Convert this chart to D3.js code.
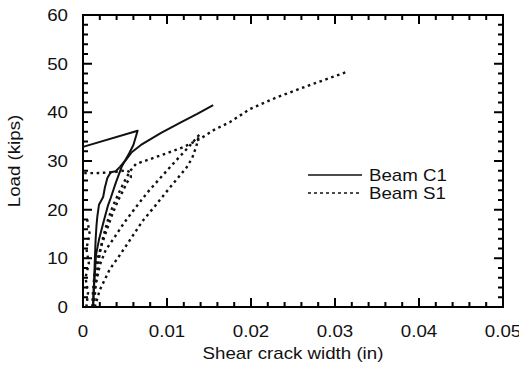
<!DOCTYPE html>
<html><head><meta charset="utf-8">
<script src="https://cdn.jsdelivr.net/npm/d3@7"></script>
<style>
body{margin:0;background:#fff;}
text{font-family:"Liberation Sans",Arial,Helvetica,sans-serif;fill:#111;}
</style></head>
<body><svg id="c" width="519" height="367"></svg>
<script>
// ---- data (shear crack width in inches, load in kips) ----
const xTicks = [0, 0.01, 0.02, 0.03, 0.04, 0.05];
const xTickLabels = ["0", "0.01", "0.02", "0.03", "0.04", "0.05"];
const yTicks = [0, 10, 20, 30, 40, 50, 60];
const yTickLabels = ["0", "10", "20", "30", "40", "50", "60"];
const seriesNames = ["Beam C1", "Beam S1"];

// Beam C1 (solid)
const c1aW = [0.0012,0.0013,0.0014,0.0015,0.0016,0.0017,0.0019,0.0024,0.0026,0.0029,0.0033,0.0039,0.0044,0.0051,0.0058,0.0069,0.0093,0.0117,0.0136,0.0155];
const c1aL = [0,4.5,9.2,13.8,16.6,18.5,21,22.6,24.5,26.5,27.7,27.9,28.8,30.2,31.8,33.3,35.8,38.0,39.7,41.5];
const c1bW = [0.0012,0.00125,0.0014,0.00155,0.0019,0.00225,0.0026,0.003,0.0033,0.0039,0.0046,0.0055,0.006,0.0065,0];
const c1bL = [0,2.5,6.6,10.7,13.8,16.2,18.5,21,22.4,25.5,28.8,31.6,33.3,36.2,32.9];

// Beam S1 (dotted)
const s1aW = [0.0014,0.002,0.0032,0.0044,0.0056,0.0071,0.0086,0.0098,0.0111,0.0123,0.013,0.0135,0.0138];
const s1aL = [0,3.5,7.8,10.7,13.8,17.7,20.8,23.4,26.1,28.6,30.6,33.1,35.3];
const s1bW = [0.0013,0.0015,0.002,0.0027,0.0037,0.0049,0.0062,0.0077,0.0092,0.0106,0.012,0.0131,0.0139];
const s1bL = [0,4.5,8.6,11.7,14.2,17.3,20.3,23.6,26.5,29.2,31.8,33.9,35.5];
const s1cW = [0.0012,0.0014,0.0017,0.002,0.0024,0.0029,0.0035,0.0042,0.0049,0.0056,0.0063,0.008,0.01,0.012,0.0139,0.0156,0.0175,0.0199,0.0231,0.027,0.0314];
const s1cL = [0,3.5,7.2,11.1,14.4,17.5,20.5,23.2,25.7,27.9,29.4,30.4,31.6,32.9,34.5,36.4,38.0,40.7,43.1,45.6,48.3];
const s1dW = [0.0011,0.0012,0.0014,0.0018,0.0023,0.0029,0.0035,0.0042,0.0048,0.0052,0.0057,0.0056,0.0051,0.0038,0.0015,0];
const s1dL = [0,3.5,7.2,10.3,13.2,16.2,19.1,22,24,25.5,26.7,27.7,28.1,27.7,27.5,27.5];
const s1eW = [0.0004,0.0006,0.0003,0.0007,0.0004,0.0008,0.0005];
const s1eL = [0,3,6,9,12,15,18];

const zip = (w, l) => w.map((v, i) => [v, l[i]]);
const solidSeries = [zip(c1aW, c1aL), zip(c1bW, c1bL)];
const dottedSeries = [zip(s1aW, s1aL), zip(s1bW, s1bL), zip(s1cW, s1cL), zip(s1dW, s1dL), zip(s1eW, s1eL)];

// ---- drawing ----
const svg = d3.select("#c");
const L = 83, R = 503, T = 15, B = 307;
const x = d3.scaleLinear().domain([0, 0.05]).range([L, R]);
const y = d3.scaleLinear().domain([0, 60]).range([B, T]);
const FS = 17, STRETCH = 1.1;
function stretch(sel){
  sel.each(function(){
    const n = this.getComputedTextLength();
    d3.select(this).attr("textLength", n * STRETCH).attr("lengthAdjust", "spacingAndGlyphs");
  });
}

// frame
svg.append("rect").attr("x", L).attr("y", T).attr("width", R - L).attr("height", B - T)
  .attr("fill", "none").attr("stroke", "#000").attr("stroke-width", 2);

// ticks drawn as paths (inward), on all four sides
const xMinor = d3.range(0, 0.0501, 0.002);
const yMinor = d3.range(0, 60.01, 2);
const isMajorX = v => Math.abs(v * 100 - Math.round(v * 100)) < 1e-6;
const isMajorY = v => Math.abs(v % 10) < 1e-6;
const tx = d => isMajorX(d) ? 9 : 5;
const ty = d => isMajorY(d) ? 9 : 5;
let tp = "";
xMinor.forEach(d => {
  const px = x(d);
  tp += `M${px},${B}V${B - tx(d)}M${px},${T}V${T + tx(d)}`;
});
yMinor.forEach(d => {
  const py = y(d);
  tp += `M${L},${py}H${L + ty(d)}M${R},${py}H${R - ty(d)}`;
});
svg.append("path").attr("d", tp).attr("fill", "none").attr("stroke", "#000").attr("stroke-width", 2);

// tick labels
svg.append("g").selectAll("text").data(xTicks).join("text")
  .attr("x", d => x(d)).attr("y", B + 30).attr("text-anchor", "middle")
  .attr("font-size", FS).text((d, i) => xTickLabels[i]).call(stretch);
svg.append("g").selectAll("text").data(yTicks).join("text")
  .attr("x", L - 15).attr("y", d => y(d)).attr("dy", "0.36em").attr("text-anchor", "end")
  .attr("font-size", FS).text((d, i) => yTickLabels[i]).call(stretch);

const line = d3.line().x(d => x(d[0])).y(d => y(d[1]));
svg.append("g").selectAll("path").data(solidSeries).join("path")
  .attr("d", line).attr("fill", "none").attr("stroke", "#111").attr("stroke-width", 2)
  .attr("stroke-linejoin", "round");
svg.append("g").selectAll("path").data(dottedSeries).join("path")
  .attr("d", line).attr("fill", "none").attr("stroke", "#111").attr("stroke-width", 2.4)
  .attr("stroke-dasharray", "2.6,3.6");

// axis titles
svg.append("text").attr("x", (L + R) / 2).attr("y", 359).attr("text-anchor", "middle")
  .attr("font-size", FS).text("Shear crack width (in)").call(stretch);
svg.append("text").attr("transform", `translate(20,${(T + B) / 2}) rotate(-90)`)
  .attr("text-anchor", "middle").attr("font-size", FS).text("Load (kips)").call(stretch);

// legend
const legY = [175, 193];
const leg = svg.append("g").selectAll("g").data(seriesNames).join("g")
  .attr("transform", (d, i) => `translate(0,${legY[i]})`);
leg.append("line").attr("x1", 308).attr("x2", 362).attr("y1", 0).attr("y2", 0)
  .attr("stroke", "#111").attr("stroke-width", 1.6)
  .attr("stroke-dasharray", (d, i) => i === 0 ? null : "3,3");
leg.append("text").attr("x", 369).attr("y", 5.5).attr("font-size", FS).text(d => d).call(stretch);
</script></body></html>
